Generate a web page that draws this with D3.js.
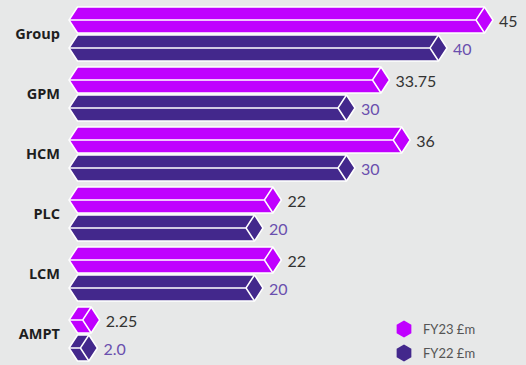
<!DOCTYPE html>
<html>
<head>
<meta charset="utf-8">
<script src="https://cdn.jsdelivr.net/npm/d3@7"></script>
<style>
  html, body { margin: 0; padding: 0; background: #e7e8e8; }
  svg { display: block; }
</style>
</head>
<body>
<svg id="chart" width="526" height="365"></svg>
<script>
// Chart data
const categories = ["Group", "GPM", "HCM", "PLC", "LCM", "AMPT"];
const seriesNames = ["FY23 £m", "FY22 £m"];
const fy23 = [45, 33.75, 36, 22, 22, 2.25];
const fy22 = [40, 30, 30, 20, 20, 2.0];
const fy23Labels = ["45", "33.75", "36", "22", "22", "2.25"];
const fy22Labels = ["40", "30", "30", "20", "20", "2.0"];

const colors = { FY23: "#c000ff", FY22: "#43288c" };
const labelColors = { FY23: "#333333", FY22: "#6a4fae" };

const svg = d3.select("#chart");

const x = d3.scaleLinear().domain([0, 45]).range([79, 493]);
const y = d3.scaleBand().domain(categories).range([7, 361]).paddingInner(0.1).paddingOuter(0);
const ySub = d3.scaleBand().domain(["FY23", "FY22"]).range([0, y.bandwidth()]).paddingInner(2 / 28);

const d = 8.5;             // half-width of the end facets
const leftX = x(0) - 10;   // pointed left end of each prism

const rows = categories.map((c, i) => ({
  cat: c,
  bars: [
    { key: "FY23", value: fy23[i], label: fy23Labels[i] },
    { key: "FY22", value: fy22[i], label: fy22Labels[i] }
  ]
}));

// Category labels
svg.append("g").selectAll("text").data(categories).join("text")
  .attr("x", 60)
  .attr("y", c => y(c) + y.bandwidth() / 2 - 1)
  .attr("text-anchor", "end")
  .attr("dominant-baseline", "central")
  .attr("font-family", "'Open Sans', Lato, sans-serif")
  .attr("font-weight", 700)
  .attr("font-size", 14.5)
  .attr("fill", "#1e1e1e")
  .text(c => c);

const groups = svg.append("g").selectAll("g").data(rows).join("g")
  .attr("transform", r => `translate(0,${y(r.cat)})`);

const bar = groups.selectAll("g.bar").data(r => r.bars).join("g").attr("class", "bar");

// Prism outline
bar.append("path")
  .attr("d", b => {
    const y0 = ySub(b.key), h = ySub.bandwidth(), ym = y0 + h / 2;
    const R = x(b.value);
    return `M${leftX},${ym}L${leftX + d},${y0}L${R - d},${y0}L${R},${ym}L${R - d},${y0 + h}L${leftX + d},${y0 + h}Z`;
  })
  .attr("fill", b => colors[b.key])
  .attr("stroke", "#ffffff")
  .attr("stroke-width", 1.5)
  .attr("stroke-linejoin", "round");

// Facet edges
bar.append("path")
  .attr("d", b => {
    const y0 = ySub(b.key), h = ySub.bandwidth(), ym = y0 + h / 2;
    const R = x(b.value);
    return `M${leftX},${ym}L${R - 2 * d},${ym}L${R - d},${y0}M${R - 2 * d},${ym}L${R - d},${y0 + h}`;
  })
  .attr("fill", "none")
  .attr("stroke", "#ffffff")
  .attr("stroke-width", 1.5);

bar.append("text")
  .attr("x", b => x(b.value) + 6)
  .attr("y", b => ySub(b.key) + ySub.bandwidth() / 2)
  .attr("dominant-baseline", "central")
  .attr("font-family", "Lato, 'Open Sans', sans-serif")
  .attr("font-size", 16)
  .attr("fill", b => labelColors[b.key])
  .text(b => b.label);

// Legend
const hex = r => d3.range(6).map(k => {
  const a = Math.PI / 3 * k - Math.PI / 2;
  return [r * Math.cos(a), r * Math.sin(a)];
});
const legend = svg.append("g").selectAll("g").data(seriesNames).join("g")
  .attr("transform", (s, i) => `translate(404,${329 + i * 24})`);
legend.append("path")
  .attr("d", d3.line()(hex(8.5)) + "Z")
  .attr("fill", (s, i) => i === 0 ? colors.FY23 : colors.FY22);
legend.append("text")
  .attr("x", 19)
  .attr("dominant-baseline", "central")
  .attr("font-family", "Lato, 'Open Sans', sans-serif")
  .attr("font-size", 13)
  .attr("fill", "#555555")
  .text(s => s);
</script>
</body>
</html>
